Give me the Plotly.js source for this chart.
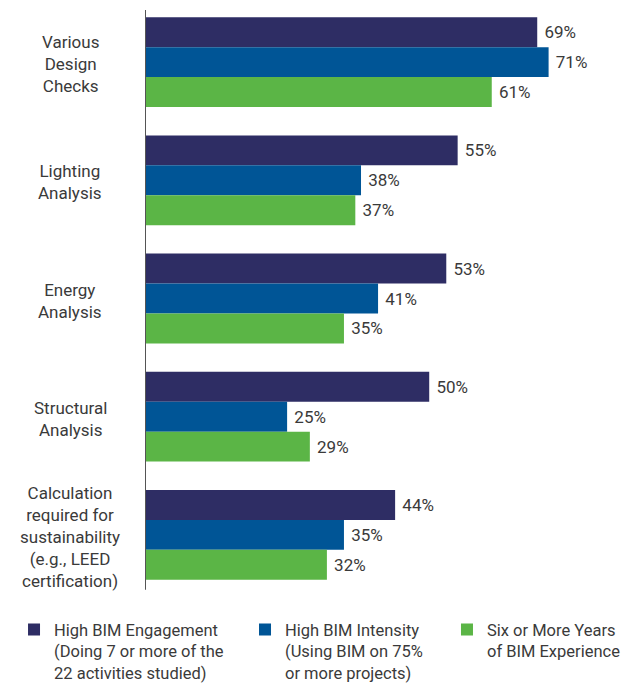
<!DOCTYPE html>
<html>
<head>
<meta charset="utf-8">
<script src="https://cdn.plot.ly/plotly-3.0.1.min.js"></script>
<style>html,body{margin:0;padding:0;background:#fff;}#chart{width:635px;height:683px;}</style>
</head>
<body>
<div id="chart"></div>
<script>
const categories = [
  "Various<br>Design<br>Checks",
  "Lighting<br>Analysis",
  "Energy<br>Analysis",
  "Structural<br>Analysis",
  "Calculation<br>required for<br>sustainability<br>(e.g., LEED<br>certification)"
];
const seriesNames = [
  "High BIM Engagement<br>(Doing 7 or more of the<br>22 activities studied)",
  "High BIM Intensity<br>(Using BIM on 75%<br>or more projects)",
  "Six or More Years<br>of BIM Experience"
];
const engagement = [69, 55, 53, 50, 44];
const intensity = [71, 38, 41, 25, 35];
const experience = [61, 37, 35, 29, 32];
const colors = ["#2e2d64", "#005596", "#5bb546"];

const FONT = "Roboto, 'Noto Sans', sans-serif";
const TXT = "#3a3a3a";
const seriesValues = [engagement, intensity, experience];
const legendIds = ["legend", "legend2", "legend3"];
const legendX = [-0.2673, 0.2041, 0.6163];

const traces = seriesValues.map((vals, i) => ({
  type: "bar",
  orientation: "h",
  name: seriesNames[i],
  legend: legendIds[i],
  x: vals,
  y: categories,
  marker: {color: colors[i]},
  text: vals.map(v => " " + v + "%"),
  textposition: "outside",
  textfont: {family: FONT, size: 17, color: TXT},
  constraintext: "none",
  cliponaxis: false,
  hoverinfo: "none"
}));

const annotations = categories.map(c => ({
  xref: "paper", yref: "y",
  x: -0.153, y: c,
  text: c,
  showarrow: false,
  xanchor: "center", yanchor: "middle",
  align: "center",
  yshift: -2,
  font: {family: FONT, size: 17, color: TXT}
}));

const layout = {
  width: 635, height: 683,
  margin: {l: 145, r: 0, t: 3, b: 89, autoexpand: false},
  paper_bgcolor: "#fff", plot_bgcolor: "#fff",
  barmode: "group",
  bargap: 0.24,
  bargroupgap: 0,
  font: {family: FONT, size: 17, color: TXT},
  xaxis: {range: [0, 86.2], visible: false, fixedrange: true},
  yaxis: {autorange: "reversed", showticklabels: false, showgrid: false, zeroline: false, showline: false, ticks: ""},
  showlegend: true,
  shapes: [{
    type: "line", xref: "x", yref: "paper",
    x0: 0, x1: 0, y0: 0.007, y1: 0.988,
    line: {color: "#555", width: 2}
  }],
  annotations: annotations
};
legendIds.forEach((id, i) => {
  layout[id] = {
    x: legendX[i], xanchor: "left",
    y: -0.031, yanchor: "top",
    valign: "top",
    bgcolor: "rgba(0,0,0,0)",
    font: {family: FONT, size: 16.5, color: TXT}
  };
});

Plotly.newPlot("chart", traces, layout, {displayModeBar: false, staticPlot: true});
</script>
</body>
</html>
